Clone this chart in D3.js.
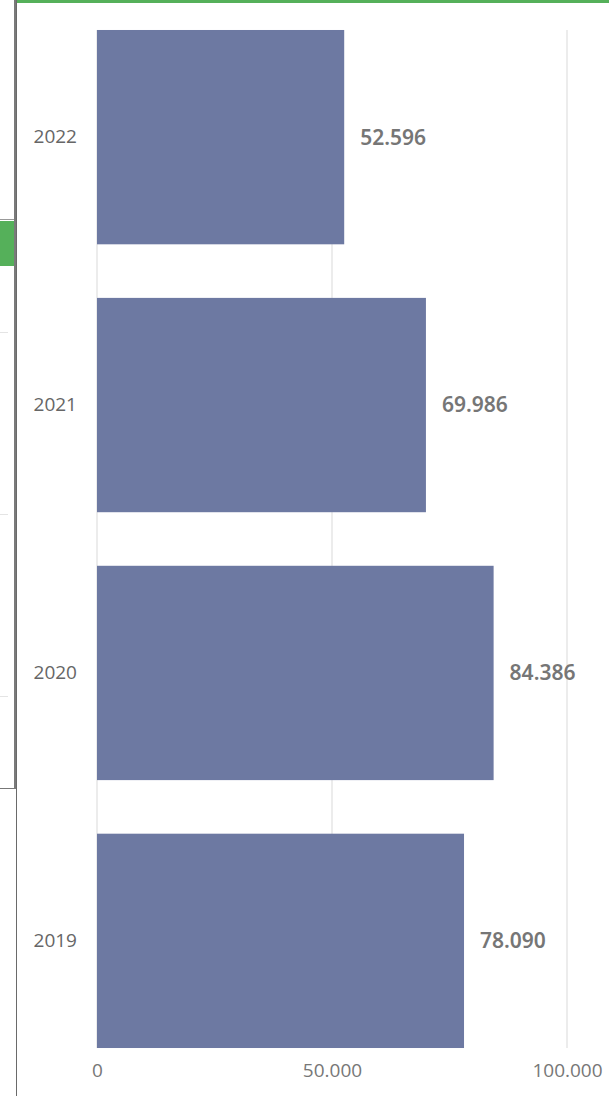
<!DOCTYPE html>
<html lang="en">
<head>
<meta charset="UTF-8">
<title>Bar chart</title>
<script src="https://cdn.jsdelivr.net/npm/d3@7"></script>
<style>
  body { margin: 0; background: #fff; }
  svg { display: block; }
</style>
</head>
<body>
<script>
  // data
  const years = ["2022", "2021", "2020", "2019"];
  const values = [52596, 69986, 84386, 78090];
  const ticks = [0, 50000, 100000];

  const width = 609, height = 1096;
  const fmt = v => d3.format(",")(v).replace(/,/g, ".");

  const svg = d3.select("body").append("svg")
    .attr("width", width).attr("height", height);

  // surrounding frame pieces (cropped dashboard)
  svg.append("rect").attr("x", 15).attr("y", 0).attr("width", 594).attr("height", 3).attr("fill", "#55b05a");
  svg.append("rect").attr("x", 0).attr("y", 219).attr("width", 15).attr("height", 1).attr("fill", "#999");
  svg.append("rect").attr("x", 0).attr("y", 221).attr("width", 15).attr("height", 45).attr("fill", "#55b05a");
  [332, 514, 696].forEach(y => {
    svg.append("rect").attr("x", 0).attr("y", y).attr("width", 8).attr("height", 1).attr("fill", "#e4e4e4");
  });
  svg.append("rect").attr("x", 0).attr("y", 788).attr("width", 15).attr("height", 1).attr("fill", "#777");
  svg.append("rect").attr("x", 14).attr("y", 0).attr("width", 2).attr("height", 789).attr("fill", "#7a7a7a");
  svg.append("rect").attr("x", 16).attr("y", 0).attr("width", 1).attr("height", height).attr("fill", "#6a6a6a");

  const x = d3.scaleLinear().domain([0, 100000]).range([97, 567]);
  const y = d3.scaleBand().domain(years).range([3.2, 1074.8])
    .paddingInner(0.2).paddingOuter(0.1);

  // gridlines
  svg.selectAll(".grid").data(ticks).enter().append("line")
    .attr("x1", d => x(d)).attr("x2", d => x(d))
    .attr("y1", y(years[0])).attr("y2", y(years[years.length - 1]) + y.bandwidth())
    .attr("stroke", "#e6e6e6").attr("stroke-width", 1.5);

  // bars
  svg.selectAll(".bar").data(years).enter().append("rect")
    .attr("x", x(0))
    .attr("y", d => y(d))
    .attr("width", (d, i) => x(values[i]) - x(0))
    .attr("height", y.bandwidth())
    .attr("fill", "#6d79a2");

  // value labels
  svg.selectAll(".val").data(years).enter().append("text")
    .attr("x", (d, i) => x(values[i]) + 16)
    .attr("y", d => y(d) + y.bandwidth() / 2)
    .attr("dy", "0.35em")
    .attr("font-family", "'Noto Sans', sans-serif")
    .attr("font-weight", 600)
    .attr("font-size", 21)
    .attr("fill", "#767676")
    .text((d, i) => fmt(values[i]));

  // category axis
  const yAxis = svg.append("g").attr("transform", "translate(77,0)")
    .call(d3.axisLeft(y).tickSize(0).tickPadding(0));
  yAxis.select(".domain").remove();
  yAxis.selectAll("text")
    .attr("font-family", "'Open Sans', sans-serif")
    .attr("font-size", 19)
    .attr("fill", "#666");

  // value axis
  const xAxis = svg.append("g").attr("transform", "translate(0,1063)")
    .call(d3.axisBottom(x).tickValues(ticks).tickSize(0).tickPadding(0).tickFormat(fmt));
  xAxis.select(".domain").remove();
  xAxis.selectAll("text")
    .attr("font-family", "'Open Sans', sans-serif")
    .attr("font-size", 19)
    .attr("fill", "#777");
</script>
</body>
</html>
